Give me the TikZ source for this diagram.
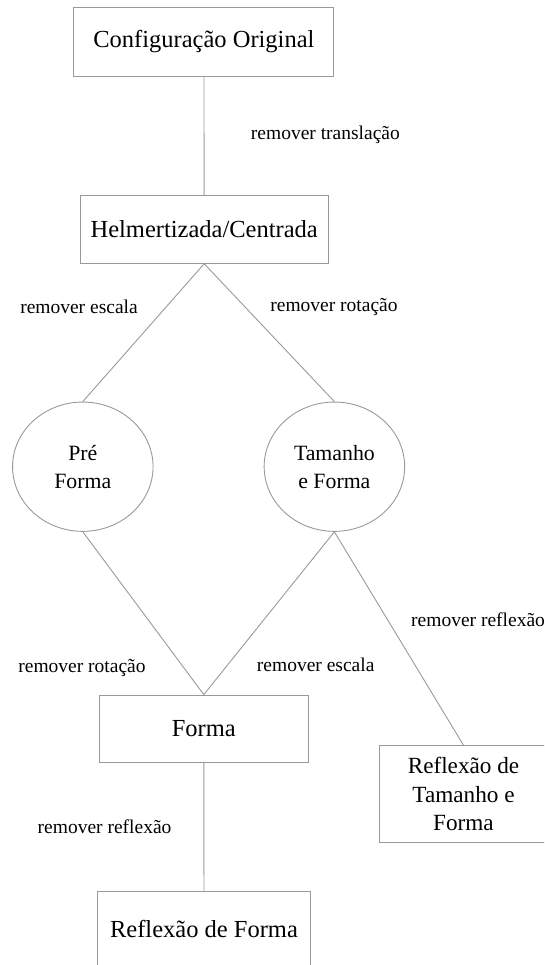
\documentclass[tikz,border=0pt]{standalone}
\usepackage{fontspec}
\setmainfont{Liberation Serif}
\usetikzlibrary{shapes.geometric}

\begin{document}
\begin{tikzpicture}[x=1pt, y=-1pt,
	linha/.style={draw=black!40, line width=0.9pt},
	caixa/.style={rectangle, draw=black!40, line width=0.9pt, inner sep=0pt, align=center, font=\fontsize{24.5}{29}\selectfont},
	bola/.style={ellipse, draw=black!40, line width=0.9pt, inner sep=0pt, align=center, minimum width=140.5pt, minimum height=129.3pt, font=\fontsize{21.8}{27.7}\selectfont},
	rotulo/.style={inner sep=0pt, font=\fontsize{19.5}{23}\selectfont}]
	\useasboundingbox (0,0) rectangle (544,965);
	\clip (0,0) rectangle (544,965);

	%Knoten
	\node[caixa, minimum width=260pt, minimum height=68.7pt] (orig) at (203.9, 41.7) {Configuração Original};
	\node[caixa, minimum width=248pt, minimum height=68pt] (helm) at (204.2, 229.3) {Helmertizada/Centrada};
	\node[bola] (pre) at (82.8, 466.7) {Pré\\Forma};
	\node[bola] (tam) at (334.4, 466.7) {Tamanho\\e Forma};
	\node[caixa, minimum width=209pt, minimum height=67.3pt] (forma) at (203.8, 728.7) {Forma};
	\node[caixa, minimum width=168pt, minimum height=96.6pt, font=\fontsize{23.2}{28.2}\selectfont] (reftam) at (463.5, 794) {Reflexão de\\Tamanho e\\Forma};
	\node[caixa, minimum width=213.4pt, minimum height=74pt] (refforma) at (204, 928.7) {Reflexão de Forma};

	%Verbindungen
	\draw[linha] (orig) -- (helm);
	\draw[linha] (helm.south) -- (pre.north);
	\draw[linha] (helm.south) -- (tam.north);
	\draw[linha] (pre.south) -- (forma.north);
	\draw[linha] (tam.south) -- (forma.north);
	\draw[linha] (tam.south) -- (reftam.north);
	\draw[linha] (forma) -- (refforma);

	%Beschriftung
	\node[rotulo] (ltrans) at (325.4, 135) {remover translação};
	\node[rotulo] (lesc1) at (79, 307) {remover escala};
	\node[rotulo] (lrot1) at (334, 307) {remover rotação};
	\node[rotulo] (lrot2) at (82, 668) {remover rotação};
	\node[rotulo] (lesc2) at (315.7, 665) {remover escala};
	\node[rotulo, anchor=west] (lref1) at (411, 619.3) {remover reflexão};
	\node[rotulo] (lref2) at (104.6, 826.7) {remover reflexão};
\end{tikzpicture}
\end{document}
